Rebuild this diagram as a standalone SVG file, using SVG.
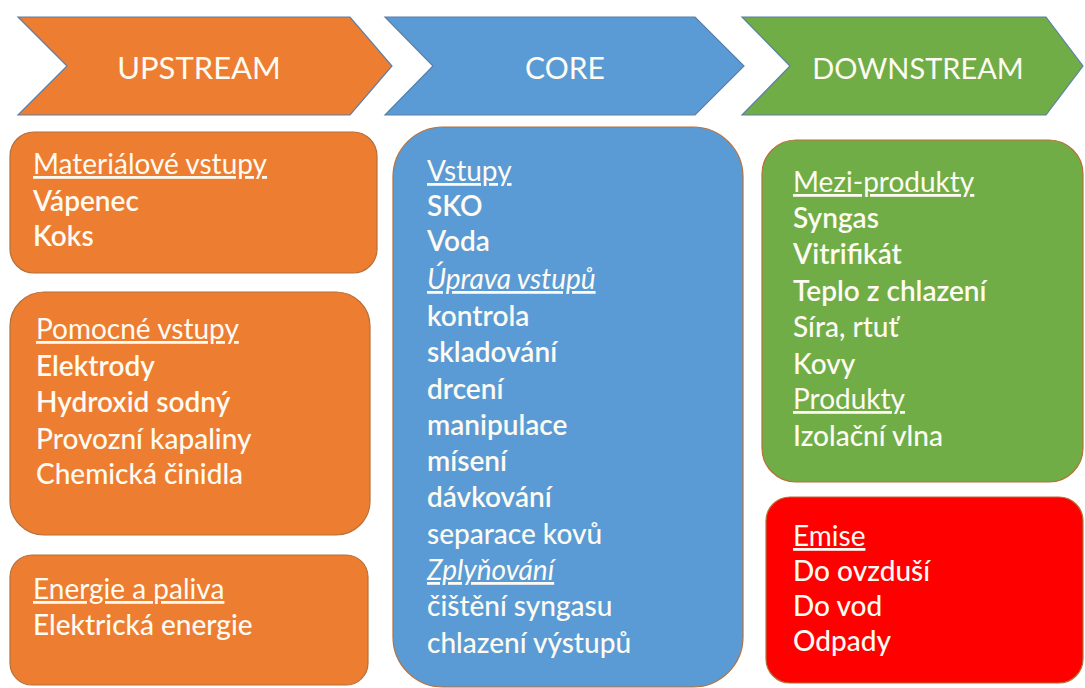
<svg xmlns="http://www.w3.org/2000/svg" width="1085" height="688" viewBox="0 0 1085 688">
  <style>
    .chev { stroke: #5a7fa8; stroke-width: 1.2; }
    .box { stroke: #b5703a; stroke-width: 1.2; }
    .hdr { font-family: Lato, "Liberation Sans", sans-serif; font-size: 30px; fill: #fdfbf2; text-anchor: middle; }
    .t { font-family: Lato, "Liberation Sans", sans-serif; font-size: 28px; fill: #fdfbf2; }
    .m { font-weight: 500; }
    .b { font-weight: 600; }
    .u { text-decoration: underline; }
    .i { font-style: italic; }
  </style>
  <rect width="1085" height="688" fill="#ffffff"/>

  <!-- phase chevrons -->
  <g id="upstream">
    <polygon class="chev" fill="#ED7D31" points="18,17 350,17 392,66 350,115 18,115 67,66"/>
    <text class="hdr" x="199" y="79" style="font-size:31px">UPSTREAM</text>
  </g>
  <g id="core">
    <polygon class="chev" fill="#5B9BD5" points="385,17 695,17 744,66 695,115 385,115 433,66"/>
    <text class="hdr" x="565" y="79">CORE</text>
  </g>
  <g id="downstream">
    <polygon class="chev" fill="#70AD47" points="742,17 1046,17 1083,66 1046,115 742,115 790,66"/>
    <text class="hdr" x="918" y="79" style="font-size:29px">DOWNSTREAM</text>
  </g>

  <!-- upstream boxes -->
  <g id="materialove-vstupy">
    <rect class="box" fill="#ED7D31" x="10" y="132" width="367" height="141" rx="24"/>
    <text class="t u" x="33" y="174">Materiálové vstupy</text>
    <text class="t b" x="33" y="211">Vápenec</text>
    <text class="t b" x="33" y="246">Koks</text>
  </g>
  <g id="pomocne-vstupy">
    <rect class="box" fill="#ED7D31" x="10" y="292" width="360" height="243" rx="34"/>
    <text class="t u" x="36" y="339">Pomocné vstupy</text>
    <text class="t b" x="36" y="376">Elektrody</text>
    <text class="t b" x="36" y="412">Hydroxid sodný</text>
    <text class="t m" x="36" y="449">Provozní kapaliny</text>
    <text class="t m" x="36" y="484">Chemická činidla</text>
  </g>
  <g id="energie-a-paliva">
    <rect class="box" fill="#ED7D31" x="10" y="555" width="358" height="130" rx="22"/>
    <text class="t u" x="33" y="599">Energie a paliva</text>
    <text class="t m" x="33" y="635">Elektrická energie</text>
  </g>

  <!-- core box -->
  <g id="core-box">
    <rect class="box" fill="#5B9BD5" x="393" y="127" width="350" height="560" rx="50"/>
    <text class="t u" x="427" y="181">Vstupy</text>
    <text class="t b" x="427" y="216">SKO</text>
    <text class="t b" x="427" y="251">Voda</text>
    <text class="t u i" x="427" y="289">Úprava vstupů</text>
    <text class="t b" x="427" y="326">kontrola</text>
    <text class="t b" x="427" y="362">skladování</text>
    <text class="t b" x="427" y="399">drcení</text>
    <text class="t b" x="427" y="435">manipulace</text>
    <text class="t b" x="427" y="471">mísení</text>
    <text class="t b" x="427" y="507">dávkování</text>
    <text class="t m" x="427" y="544">separace kovů</text>
    <text class="t u i" x="427" y="580">Zplyňování</text>
    <text class="t m" x="427" y="616">čištění syngasu</text>
    <text class="t m" x="427" y="653">chlazení výstupů</text>
  </g>

  <!-- downstream boxes -->
  <g id="mezi-produkty">
    <rect class="box" fill="#70AD47" x="762" y="140" width="321" height="342" rx="34"/>
    <text class="t u" x="793" y="192">Mezi-produkty</text>
    <text class="t b" x="793" y="228">Syngas</text>
    <text class="t b" x="793" y="264">Vitrifikát</text>
    <text class="t b" x="793" y="301">Teplo z chlazení</text>
    <text class="t m" x="793" y="337">Síra, rtuť</text>
    <text class="t m" x="793" y="374">Kovy</text>
    <text class="t u" x="793" y="409">Produkty</text>
    <text class="t m" x="793" y="446">Izolační vlna</text>
  </g>
  <g id="emise">
    <rect class="box" fill="#FF0000" x="766" y="497" width="317" height="186" rx="24"/>
    <text class="t u" x="793" y="546">Emise</text>
    <text class="t m" x="793" y="581">Do ovzduší</text>
    <text class="t m" x="793" y="616">Do vod</text>
    <text class="t m" x="793" y="651">Odpady</text>
  </g>
</svg>
